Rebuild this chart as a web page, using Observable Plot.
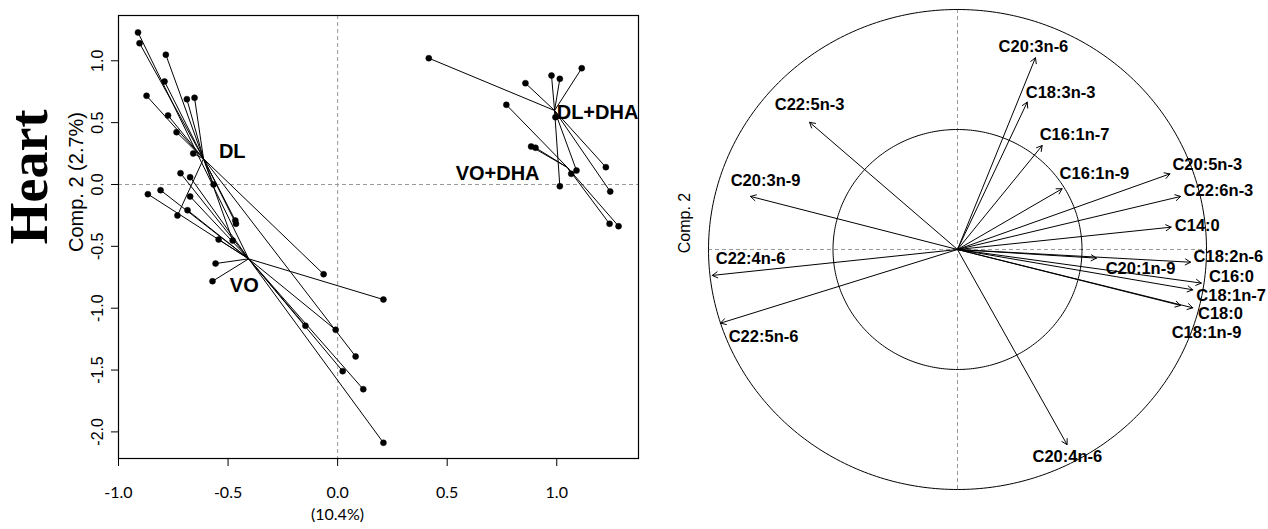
<!DOCTYPE html>
<html><head><meta charset="utf-8">
<script src="https://cdn.jsdelivr.net/npm/d3@7"></script>
<script src="https://cdn.jsdelivr.net/npm/@observablehq/plot@0.6"></script>
<style>
body{margin:0;background:#fff;}
#wrap{position:relative;width:1268px;height:529px;overflow:hidden;background:#fff;}
#left{position:absolute;left:0;top:0;}
#right{position:absolute;left:650px;top:0;}
</style></head><body>
<div id="wrap"><div id="left"></div><div id="right"></div></div>
<script>
// ---------- Left panel: scores by group (PC1 / PC2) ----------
const groupNames = ["DL", "VO", "DL+DHA", "VO+DHA"];
const dlX = [-0.904, -0.784, -0.790, -0.872, -0.688, -0.653, -0.774, -0.735, -0.659, -0.566, -0.731, -0.467, -0.464, -0.479, -0.064, 0.082];
const dlY = [1.142, 1.049, 0.833, 0.717, 0.690, 0.701, 0.558, 0.423, 0.251, 0.000, -0.251, -0.291, -0.318, -0.453, -0.725, -1.390];
const voX = [-0.911, -0.717, -0.673, -0.866, -0.808, -0.673, -0.685, -0.543, -0.557, -0.571, 0.209, -0.147, -0.009, 0.023, 0.117, 0.209];
const voY = [1.229, 0.091, 0.059, -0.078, -0.046, -0.097, -0.208, -0.445, -0.639, -0.782, -0.930, -1.142, -1.175, -1.509, -1.655, -2.088];
const dldhaX = [0.416, 0.857, 0.976, 1.014, 1.114, 0.994, 1.224, 1.244, 1.014, 1.090];
const dldhaY = [1.021, 0.819, 0.881, 0.854, 0.940, 0.544, 0.140, -0.057, -0.014, 0.113];
const vodhaX = [0.770, 0.883, 0.903, 1.066, 1.241, 1.282];
const vodhaY = [0.644, 0.307, 0.297, 0.086, -0.318, -0.337];
const centroidX = [-0.612, -0.406, 0.990, 1.049];
const centroidY = [0.208, -0.601, 0.598, 0.137];
const groupLabelX = [-0.481, -0.426, 1.186, 0.730];
const groupLabelY = [0.267, -0.816, 0.582, 0.089];
const xTicks = [-1.0, -0.5, 0.0, 0.5, 1.0];
const yTicks = [-2.0, -1.5, -1.0, -0.5, 0.0, 0.5, 1.0];

// ---------- Right panel: correlation circle ----------
const acids = ["C22:5n-3","C20:3n-9","C22:4n-6","C22:5n-6","C20:4n-6","C20:3n-6","C18:3n-3","C16:1n-7","C16:1n-9","C20:5n-3","C22:6n-3","C14:0","C18:2n-6","C20:1n-9","C16:0","C18:1n-7","C18:0","C18:1n-9"];
const comp1 = [-0.594, -0.831, -0.985, -0.952, 0.440, 0.313, 0.280, 0.340, 0.420, 0.853, 0.896, 0.858, 0.936, 0.558, 0.979, 0.945, 0.896, 0.945];
const comp2 = [0.530, 0.221, -0.108, -0.307, -0.813, 0.799, 0.614, 0.433, 0.253, 0.315, 0.221, 0.093, -0.053, -0.036, -0.140, -0.168, -0.233, -0.243];
const acidLabelX = [-0.594, -0.771, -0.831, -0.779, 0.441, 0.305, 0.414, 0.470, 0.550, 1.003, 1.048, 0.963, 1.088, 0.735, 1.100, 1.099, 1.056, 1.000];
const acidLabelY = [0.604, 0.288, -0.038, -0.363, -0.865, 0.847, 0.654, 0.479, 0.317, 0.354, 0.246, 0.100, -0.032, -0.079, -0.115, -0.192, -0.268, -0.345];
const circleRadii = [1, 0.5];

// ---------- build tables ----------
const groupX = [dlX, voX, dldhaX, vodhaX];
const groupY = [dlY, voY, dldhaY, vodhaY];
const scores = [];
groupNames.forEach((g, gi) => {
  groupX[gi].forEach((x, i) => scores.push({group: g, x, y: groupY[gi][i], cx: centroidX[gi], cy: centroidY[gi]}));
});
const groupLabels = groupNames.map((g, i) => ({g, x: groupLabelX[i], y: groupLabelY[i]}));

const SANS = "'Liberation Sans', Arial, Helvetica, sans-serif";
const TICKFONT = "Lato, 'Open Sans', sans-serif";

const left = Plot.plot({
  width: 650, height: 529,
  marginLeft: 118, marginRight: 12, marginTop: 15, marginBottom: 71,
  style: {fontFamily: SANS, color: "black", background: "white"},
  x: {domain: [-1.0, 1.373]},
  y: {domain: [-2.215, 1.366]},
  marks: [
    Plot.ruleY([0], {stroke: "#999", strokeDasharray: "4,3"}),
    Plot.ruleX([0], {stroke: "#999", strokeDasharray: "4,3"}),
    Plot.link(scores, {x1: "x", y1: "y", x2: "cx", y2: "cy", stroke: "black", strokeWidth: 1}),
    Plot.dot(scores, {x: "x", y: "y", r: 3, fill: "black", stroke: "black", strokeWidth: 0.5}),
    Plot.text(groupLabels, {x: "x", y: "y", text: "g", fontWeight: "bold", fontSize: 20, fill: "black"}),
    Plot.frame({stroke: "black", strokeWidth: 1.2}),
    Plot.axisX({ticks: xTicks, tickFormat: d => d.toFixed(1), tickSize: 8, tickPadding: 20, label: null, fontSize: 16, fontFamily: TICKFONT}),
    Plot.axisY({ticks: yTicks, tickFormat: () => "", tickSize: 7, label: null}),
    Plot.text(yTicks, {y: d => d, text: d => d.toFixed(1), frameAnchor: "left", textAnchor: "middle", dx: -21, rotate: -90, fontSize: 16, fill: "black"}),
    Plot.text(["Comp. 2 (2.7%)"], {frameAnchor: "left", textAnchor: "middle", dx: -42, dy: -55, rotate: -90, fontSize: 20, fill: "black"}),
    Plot.text(["Heart"], {frameAnchor: "left", textAnchor: "middle", dx: -89, dy: -60, rotate: -90, fontSize: 54, fontWeight: "bold", fontFamily: "'Liberation Serif', 'Times New Roman', serif", fill: "black"}),
    Plot.text(["(10.4%)"], {frameAnchor: "bottom", dx: -41, dy: 61, fontSize: 16, fontFamily: TICKFONT, fill: "black"})
  ]
});
document.getElementById("left").appendChild(left);

// ---------- right panel ----------
const loadings = acids.map((n, i) => ({n, x: comp1[i], y: comp2[i], lx: acidLabelX[i], ly: acidLabelY[i]}));
const circlePts = [];
circleRadii.forEach(r => {
  for (let a = 0; a <= 360; a += 1) {
    circlePts.push({r, x: r * Math.cos(a * Math.PI / 180), y: r * Math.sin(a * Math.PI / 180)});
  }
});

const right = Plot.plot({
  width: 618, height: 529, margin: 0,
  style: {fontFamily: SANS, color: "black", background: "white"},
  x: {domain: [-1.233, 1.249], axis: null},
  y: {domain: [-1.1667, 1.0375], axis: null},
  marks: [
    Plot.ruleX([0], {y1: -1, y2: 1, stroke: "#999", strokeDasharray: "4,3"}),
    Plot.ruleY([0], {x1: -1, x2: 1, stroke: "#999", strokeDasharray: "4,3"}),
    Plot.line(circlePts, {x: "x", y: "y", z: "r", stroke: "black", strokeWidth: 1}),
    Plot.arrow(loadings, {x1: 0, y1: 0, x2: "x", y2: "y", stroke: "black", strokeWidth: 1, headLength: 9, headAngle: 60}),
    Plot.text(loadings, {x: "lx", y: "ly", text: "n", fontWeight: "bold", fontSize: 16.5, fill: "black"}),
    Plot.text(["Comp. 2"], {frameAnchor: "left", textAnchor: "middle", dx: 34, dy: -42, rotate: -90, fontSize: 16, fill: "black"})
  ]
});
document.getElementById("right").appendChild(right);
</script>
</body></html>
